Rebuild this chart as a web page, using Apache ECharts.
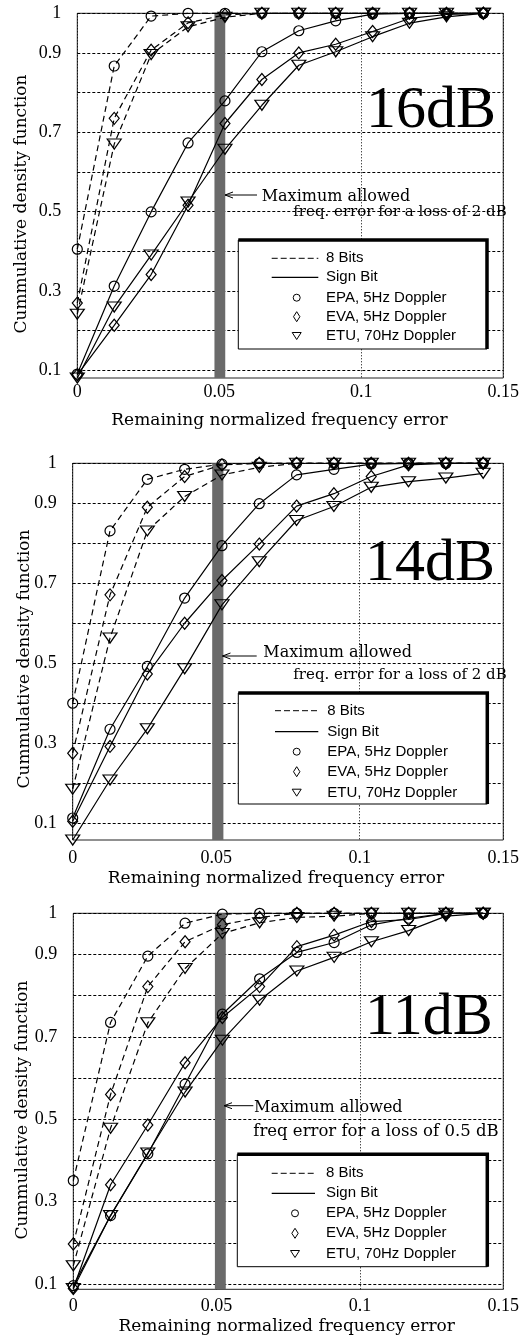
<!DOCTYPE html>
<html>
<head>
<meta charset="utf-8">
<script src="https://cdn.jsdelivr.net/npm/echarts@6/dist/echarts.min.js"></script>
<style>
html,body{margin:0;padding:0;background:#fff;}
#c{width:522px;height:1339px;}
</style>
</head>
<body>
<div id="c"></div>
<script>
// ---------- DATA ----------
const xValues = [0, 0.013, 0.026, 0.039, 0.052, 0.065, 0.078, 0.091, 0.104, 0.117, 0.130, 0.143];
const xTickLabels = ['0', '0.05', '0.1', '0.15'];
const yTickValues = [0.1, 0.2, 0.3, 0.4, 0.5, 0.6, 0.7, 0.8, 0.9, 1];
const yLabelValues = [0.1, 0.3, 0.5, 0.7, 0.9, 1];
const panelLabels = ['16dB', '14dB', '11dB'];
const legendLabels = ['8 Bits', 'Sign Bit', 'EPA, 5Hz Doppler', 'EVA, 5Hz Doppler', 'ETU, 70Hz Doppler'];
const annotationLines = [
  ['Maximum allowed', 'freq. error for a loss of 2 dB'],
  ['Maximum allowed', 'freq. error for a loss of 2 dB'],
  ['Maximum allowed', 'freq error for a loss of 0.5 dB']
];
const xTitle = 'Remaining normalized frequency error';
const yTitle = 'Cummulative density function';
const allowedErrorStart = [0.0483, 0.0486, 0.0494];
const allowedErrorEnd = [0.0521, 0.0525, 0.0532];

// 16 dB
const epa8_16 = [0.405, 0.867, 0.993, 1, 1, 1, 1, 1, 1, 1, 1, 1];
const eva8_16 = [0.269, 0.735, 0.907, 0.976, 0.996, 1, 1, 1, 1, 1, 1, 1];
const etu8_16 = [0.241, 0.670, 0.896, 0.966, 0.990, 1, 1, 1, 1, 1, 1, 1];
const epaS_16 = [0.090, 0.312, 0.499, 0.673, 0.779, 0.903, 0.956, 0.981, 0.998, 1, 1, 1];
const evaS_16 = [0.088, 0.213, 0.341, 0.516, 0.722, 0.833, 0.900, 0.922, 0.954, 0.987, 0.997, 1];
const etuS_16 = [0.080, 0.259, 0.390, 0.524, 0.657, 0.768, 0.869, 0.903, 0.941, 0.975, 0.991, 1];
// 14 dB
const epa8_14 = [0.400, 0.831, 0.960, 0.985, 0.998, 1, 1, 1, 1, 1, 1, 1];
const eva8_14 = [0.275, 0.671, 0.890, 0.967, 0.996, 1, 1, 1, 1, 1, 1, 1];
const etu8_14 = [0.185, 0.563, 0.831, 0.917, 0.971, 0.990, 1, 1, 1, 1, 1, 1];
const epaS_14 = [0.113, 0.335, 0.492, 0.663, 0.794, 0.899, 0.971, 0.985, 0.998, 1, 1, 1];
const evaS_14 = [0.105, 0.292, 0.473, 0.600, 0.707, 0.798, 0.893, 0.924, 0.967, 0.996, 1, 1];
const etuS_14 = [0.058, 0.208, 0.336, 0.486, 0.646, 0.754, 0.857, 0.892, 0.940, 0.954, 0.963, 0.975];
// 11 dB
const epa8_11 = [0.351, 0.735, 0.896, 0.976, 0.998, 1, 1, 1, 1, 1, 1, 1];
const eva8_11 = [0.197, 0.560, 0.822, 0.931, 0.972, 0.990, 1, 1, 1, 1, 1, 1];
const etu8_11 = [0.144, 0.478, 0.734, 0.866, 0.951, 0.977, 0.990, 0.993, 1, 1, 1, 1];
const epaS_11 = [0.096, 0.266, 0.416, 0.585, 0.755, 0.841, 0.905, 0.929, 0.972, 0.988, 1, 1];
const evaS_11 = [0.089, 0.341, 0.486, 0.637, 0.747, 0.822, 0.919, 0.947, 0.980, 0.985, 1, 1];
const etuS_11 = [0.089, 0.266, 0.418, 0.566, 0.692, 0.789, 0.860, 0.893, 0.931, 0.958, 0.993, 1];

// ---------- LAYOUT ----------
const panels = [
  {grid: {left: 77.3, top: 13.3, width: 430.4, height: 364.7}, yMin: 0.08, xLabelMargin: 5,
   series: [epa8_16, eva8_16, etu8_16, epaS_16, evaS_16, etuS_16]},
  {grid: {left: 72.7, top: 463.3, width: 430.6, height: 376.7}, yMin: 0.058, xLabelMargin: 9,
   series: [epa8_14, eva8_14, etu8_14, epaS_14, evaS_14, etuS_14]},
  {grid: {left: 73.3, top: 913.3, width: 430, height: 376}, yMin: 0.087, xLabelMargin: 8,
   series: [epa8_11, eva8_11, etu8_11, epaS_11, evaS_11, etuS_11]}
];
const markerDefs = [
  {symbol: 'circle', size: 10, rotate: 0},
  {symbol: 'diamond', size: [10, 12], rotate: 0},
  {symbol: 'triangle', size: [14, 10], rotate: 180}
];
const legendBoxes = [
  {x: 238.3, y: 240, w: 248.7, h: 109, rows: [258.3, 277.3, 297.7, 316.7, 336], lx1: 271.7, lx2: 318.3, sx: 296.7, tx: 326},
  {x: 238.3, y: 693, w: 249, h: 111, rows: [710.7, 731.7, 751.7, 771.7, 792.7], lx1: 275, lx2: 318.3, sx: 296.7, tx: 327.3},
  {x: 237.3, y: 1154.3, w: 250, h: 112.4, rows: [1173.3, 1193.3, 1213.3, 1233.3, 1254], lx1: 271.7, lx2: 315, sx: 295, tx: 326}
];
const annotLayout = [
  {ay: 195, tip: 225, tail: 257, l1: [261.7, 197, 16], l2: [293.3, 212, 15]},
  {ay: 656, tip: 222.5, tail: 256.7, l1: [263.3, 653, 16], l2: [293.3, 675, 15]},
  {ay: 1105.7, tip: 224, tail: 253.3, l1: [254, 1108, 16], l2: [253.3, 1132, 16.5]}
];
const bigLabelPos = [[366, 111], [365, 564], [365, 1018]];
const xTitlePos = [[279.5, 421], [276, 879], [286.7, 1327]];
const yTitlePos = [[22, 204], [25, 659], [22.5, 1110]];

const SERIF = '"DejaVu Serif", serif';
const TICKFONT = '"Liberation Serif", serif';

const grids = [], xAxes = [], yAxes = [], series = [], graphics = [];

panels.forEach((p, pi) => {
  grids.push(Object.assign({show: true, borderColor: '#222', borderWidth: 1, backgroundColor: 'transparent', containLabel: false}, p.grid));
  xAxes.push({
    type: 'value', gridIndex: pi, min: 0, max: 0.15, interval: 0.05,
    axisLine: {show: false}, axisTick: {show: false},
    axisLabel: {color: '#000', fontFamily: TICKFONT, fontSize: 18, margin: p.xLabelMargin,
      formatter: v => xTickLabels[Math.round(v / 0.05)]},
    splitLine: {show: true, lineStyle: {color: '#000', width: 1, type: [1, 2]}}
  });
  yAxes.push({
    type: 'value', gridIndex: pi, min: p.yMin, max: 1,
    axisLine: {show: false},
    axisTick: {show: false, customValues: yTickValues},
    axisLabel: {color: '#000', fontFamily: TICKFONT, fontSize: 18, margin: 16, customValues: yLabelValues,
      formatter: v => String(Math.round(v * 100) / 100)},
    splitLine: {show: true, lineStyle: {color: '#000', width: 1, type: [3, 2]}}
  });
  p.series.forEach((arr, si) => {
    const m = markerDefs[si % 3];
    const dashed = si < 3;
    const s = {
      type: 'line', xAxisIndex: pi, yAxisIndex: pi,
      data: xValues.map((x, i) => [x, arr[i]]),
      symbol: m.symbol, symbolSize: m.size, symbolRotate: m.rotate, showAllSymbol: true,
      lineStyle: {color: '#000', width: 1.2, type: dashed ? [6, 4] : 'solid'},
      itemStyle: {color: 'rgba(255,255,255,0)', borderColor: '#000', borderWidth: 1.2},
      emphasis: {disabled: true}, silent: true, animation: false, clip: false, z: 3
    };
    if (si === 0) {
      s.markArea = {silent: true, itemStyle: {color: '#6a6a6a', opacity: 1},
        data: [[{xAxis: allowedErrorStart[pi]}, {xAxis: allowedErrorEnd[pi]}]]};
    }
    series.push(s);
  });

  // legend box
  const b = legendBoxes[pi];
  graphics.push({type: 'rect', z: 10, shape: {x: b.x, y: b.y, width: b.w, height: b.h}, style: {fill: '#fff', stroke: '#000', lineWidth: 1}});
  graphics.push({type: 'polyline', z: 11, shape: {points: [[b.x, b.y], [b.x + b.w, b.y], [b.x + b.w, b.y + b.h]]}, style: {fill: null, stroke: '#000', lineWidth: 3.5}});
  graphics.push({type: 'line', z: 11, shape: {x1: b.lx1, y1: b.rows[0], x2: b.lx2, y2: b.rows[0]}, style: {stroke: '#000', lineWidth: 1, lineDash: [6, 3]}});
  graphics.push({type: 'line', z: 11, shape: {x1: b.lx1, y1: b.rows[1], x2: b.lx2, y2: b.rows[1]}, style: {stroke: '#000', lineWidth: 1.2}});
  graphics.push({type: 'circle', z: 11, shape: {cx: b.sx, cy: b.rows[2], r: 3.5}, style: {fill: null, stroke: '#000', lineWidth: 1}});
  graphics.push({type: 'polygon', z: 11, shape: {points: [[b.sx, b.rows[3] - 5], [b.sx + 3.2, b.rows[3]], [b.sx, b.rows[3] + 5], [b.sx - 3.2, b.rows[3]]]}, style: {fill: null, stroke: '#000', lineWidth: 1}});
  graphics.push({type: 'polygon', z: 11, shape: {points: [[b.sx - 4.5, b.rows[4] - 3.5], [b.sx + 4.5, b.rows[4] - 3.5], [b.sx, b.rows[4] + 3.5]]}, style: {fill: null, stroke: '#000', lineWidth: 1}});
  legendLabels.forEach((t, li) => {
    graphics.push({type: 'text', z: 12, x: b.tx, y: b.rows[li], style: {text: t, font: '15px "Liberation Sans", Arial, sans-serif', fill: '#000', align: 'left', verticalAlign: 'middle'}});
  });

  // annotation
  const a = annotLayout[pi];
  graphics.push({type: 'line', z: 9, shape: {x1: a.tip, y1: a.ay, x2: a.tail, y2: a.ay}, style: {stroke: '#000', lineWidth: 1}});
  graphics.push({type: 'polyline', z: 9, shape: {points: [[a.tip + 8, a.ay - 3], [a.tip, a.ay], [a.tip + 8, a.ay + 3]]}, style: {fill: null, stroke: '#000', lineWidth: 1}});
  graphics.push({type: 'text', z: 9, x: a.l1[0], y: a.l1[1], style: {text: annotationLines[pi][0], font: a.l1[2] + 'px ' + SERIF, fill: '#000', align: 'left', verticalAlign: 'middle'}});
  graphics.push({type: 'text', z: 9, x: a.l2[0], y: a.l2[1], style: {text: annotationLines[pi][1], font: a.l2[2] + 'px ' + SERIF, fill: '#000', align: 'left', verticalAlign: 'middle'}});

  // big label
  graphics.push({type: 'text', z: 9, x: bigLabelPos[pi][0], y: bigLabelPos[pi][1], style: {text: panelLabels[pi], font: '60px ' + TICKFONT, fill: '#000', align: 'left', verticalAlign: 'middle'}});

  // titles
  graphics.push({type: 'text', z: 9, x: xTitlePos[pi][0], y: xTitlePos[pi][1], style: {text: xTitle, font: '17px ' + SERIF, fill: '#000', align: 'center', verticalAlign: 'middle'}});
  graphics.push({type: 'text', z: 9, x: yTitlePos[pi][0], y: yTitlePos[pi][1], rotation: Math.PI / 2, style: {text: yTitle, font: '17px ' + SERIF, fill: '#000', align: 'center', verticalAlign: 'middle'}});
});

const chart = echarts.init(document.getElementById('c'), null, {renderer: 'canvas'});
chart.setOption({
  backgroundColor: '#fff',
  animation: false,
  grid: grids,
  xAxis: xAxes,
  yAxis: yAxes,
  series: series,
  graphic: {elements: graphics}
});
</script>
</body>
</html>
